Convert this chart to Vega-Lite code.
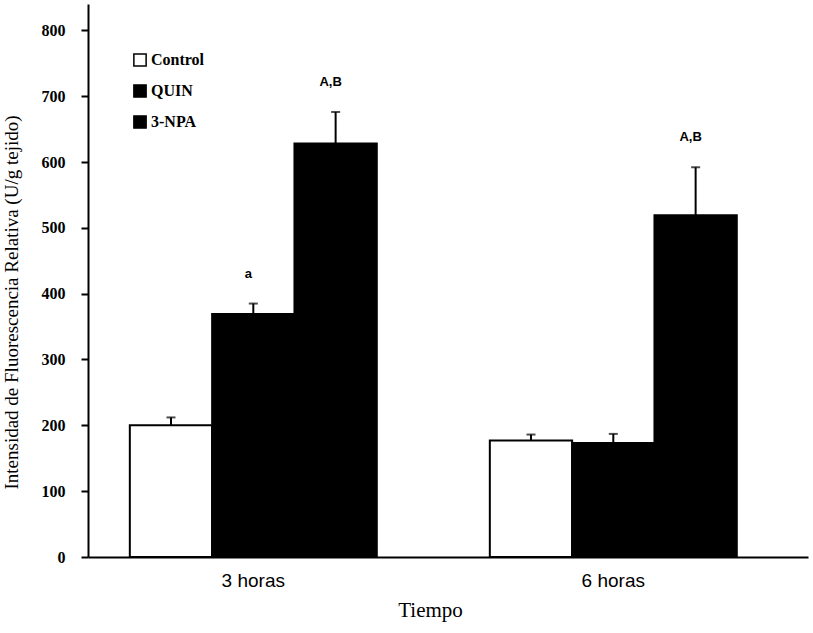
{
  "$schema": "https://vega.github.io/schema/vega-lite/v6.json",
  "width": 720,
  "height": 553,
  "autosize": "none",
  "padding": {"left": 88, "top": 4, "right": 5, "bottom": 76},
  "background": "white",
  "config": {
    "view": {"stroke": null},
    "axis": {"grid": false, "domainColor": "black", "tickColor": "black", "labelColor": "black", "titleColor": "black"}
  },
  "data": {
    "values": [
      {"tiempo": "3 horas", "grupo": "Control", "valor": 200, "superior": 212, "etiqueta": ""},
      {"tiempo": "3 horas", "grupo": "QUIN", "valor": 369, "superior": 385, "etiqueta": "a"},
      {"tiempo": "3 horas", "grupo": "3-NPA", "valor": 628, "superior": 676, "etiqueta": "A,B"},
      {"tiempo": "6 horas", "grupo": "Control", "valor": 177, "superior": 186, "etiqueta": ""},
      {"tiempo": "6 horas", "grupo": "QUIN", "valor": 173, "superior": 187, "etiqueta": ""},
      {"tiempo": "6 horas", "grupo": "3-NPA", "valor": 519, "superior": 592, "etiqueta": "A,B"}
    ]
  },
  "encoding": {
    "x": {
      "field": "tiempo",
      "type": "nominal",
      "scale": {"paddingInner": 0.314, "paddingOuter": 0.157, "align": 0.37},
      "axis": {
        "title": "Tiempo",
        "titleFont": "Liberation Serif",
        "titleFontSize": 21,
        "titleFontWeight": "normal",
        "titleX": 342,
        "titleY": 42,
        "labelFont": "Liberation Sans",
        "labelFontSize": 19,
        "labelAngle": 0,
        "labelPadding": 14,
        "ticks": false,
        "domainWidth": 2
      }
    },
    "xOffset": {"field": "grupo", "type": "nominal", "sort": ["Control", "QUIN", "3-NPA"], "scale": {"paddingInner": 0, "paddingOuter": 0}}
  },
  "layer": [
    {
      "mark": {"type": "bar", "stroke": "black", "strokeWidth": 2},
      "encoding": {
        "y": {
          "field": "valor",
          "type": "quantitative",
          "scale": {"domain": [0, 840], "nice": false},
          "axis": {
            "values": [0, 100, 200, 300, 400, 500, 600, 700, 800],
            "title": "Intensidad de Fluorescencia Relativa (U/g tejido)",
            "titleFont": "Liberation Serif",
            "titleFontSize": 19,
            "titleFontWeight": "normal",
            "titleX": -67,
            "titleY": 298,
            "labelFont": "Liberation Serif",
            "labelFontSize": 16,
            "labelFontWeight": "bold",
            "labelPadding": 16,
            "tickSize": 7,
            "tickWidth": 2,
            "domainWidth": 2
          }
        },
        "color": {
          "field": "grupo",
          "type": "nominal",
          "sort": ["Control", "QUIN", "3-NPA"],
          "scale": {"domain": ["Control", "QUIN", "3-NPA"], "range": ["white", "black", "black"]},
          "legend": {
            "title": null,
            "orient": "none",
            "legendX": 44,
            "legendY": 48,
            "symbolType": "square",
            "symbolSize": 150,
            "symbolStrokeColor": "black",
            "symbolStrokeWidth": 1.5,
            "labelFont": "Liberation Serif",
            "labelFontSize": 16,
            "labelFontWeight": "bold",
            "labelColor": "black",
            "rowPadding": 11,
            "labelOffset": 3
          }
        }
      }
    },
    {
      "mark": {"type": "rule", "color": "black", "strokeWidth": 2},
      "encoding": {
        "y": {"field": "valor", "type": "quantitative"},
        "y2": {"field": "superior"}
      }
    },
    {
      "mark": {"type": "tick", "color": "black", "thickness": 2, "size": 9},
      "encoding": {
        "y": {"field": "superior", "type": "quantitative"}
      }
    },
    {
      "mark": {"type": "text", "font": "Liberation Sans", "fontSize": 13, "fontWeight": "bold", "color": "black", "dy": -30, "dx": -5},
      "encoding": {
        "y": {"field": "superior", "type": "quantitative"},
        "text": {"field": "etiqueta"}
      }
    }
  ]
}
